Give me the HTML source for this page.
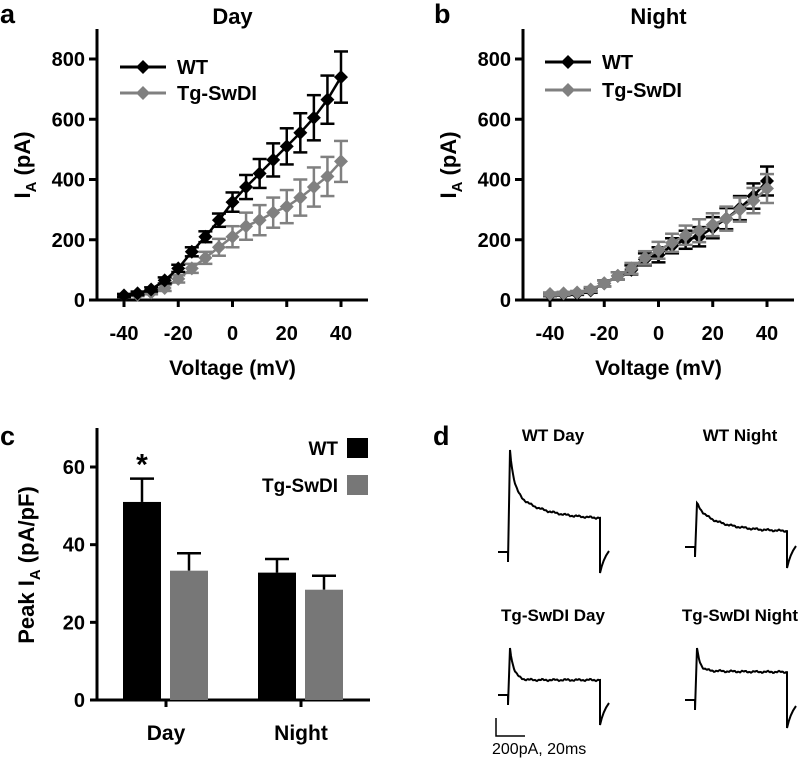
<!DOCTYPE html>
<html><head><meta charset="utf-8"><style>
body{margin:0;background:#fff}
svg{display:block;font-family:"Liberation Sans",Arial,sans-serif}
.t{font-weight:bold}
</style></head><body>
<svg id="fig" width="800" height="758" viewBox="0 0 800 758" xmlns="http://www.w3.org/2000/svg">
<g id="pa"></g>
<g id="pb"></g>
<g id="pc"></g>
<g id="pd"></g>
</svg>
<script>
const voltages=[-40,-35,-30,-25,-20,-15,-10,-5,0,5,10,15,20,25,30,35,40];
const xTicks=[-40,-20,0,20,40];
const yTicksIV=[0,200,400,600,800];
const dayWT=[15,22,35,65,105,160,210,265,325,375,420,465,510,555,605,665,740];
const dayWTErr=[5,6,7,10,12,15,18,22,32,40,48,55,60,65,75,80,85];
const dayTg=[15,18,25,40,70,105,140,175,210,245,265,290,310,340,375,410,460];
const dayTgErr=[5,5,6,10,12,15,20,28,35,45,50,50,55,60,65,65,68];
const nightWT=[18,20,22,32,55,80,100,135,150,180,200,210,240,270,305,345,395];
const nightWTErr=[5,5,5,8,10,12,15,20,25,25,30,32,35,35,40,42,48];
const nightTg=[20,22,25,35,55,80,105,140,165,190,215,230,250,270,300,330,370];
const nightTgErr=[5,5,5,8,10,12,18,22,28,30,32,38,38,40,40,42,48];
const barGroups=["Day","Night"];
const barWT=[51,32.8];
const barWTErr=[6,3.5];
const barTg=[33.3,28.4];
const barTgErr=[4.5,3.6];
const yTicksBar=[0,20,40,60];

const NS="http://www.w3.org/2000/svg";
function el(p,tag,attrs,txt){const e=document.createElementNS(NS,tag);for(const k in attrs)e.setAttribute(k,attrs[k]);if(txt!==undefined)e.textContent=txt;p.appendChild(e);return e;}
const BLACK="#000",GRAY="#808080";

function ivPanel(g,o){
  const sx=v=>o.x0+(v+40)*(o.x40-o.x0)/80;
  const sy=v=>300-v*(241/800);
  let e=el(g,"line",{x1:o.ax,y1:29,x2:o.ax,y2:301,stroke:"#000","stroke-width":3});
  
  e=el(g,"line",{x1:o.ax-8,y1:300,x2:o.ax+271,y2:300,stroke:"#000","stroke-width":3});
  
  yTicksIV.forEach(t=>{
    el(g,"line",{x1:o.ax-8,y1:sy(t),x2:o.ax,y2:sy(t),stroke:"#000","stroke-width":3});
    e=el(g,"text",{x:o.ax-12,y:sy(t)+7,"text-anchor":"end","font-size":20,class:"t"},t);
    
  });
  xTicks.forEach(t=>{
    el(g,"line",{x1:sx(t),y1:300,x2:sx(t),y2:307,stroke:"#000","stroke-width":3});
    e=el(g,"text",{x:sx(t),y:340,"text-anchor":"middle","font-size":20,class:"t"},t);
    
  });
  e=el(g,"text",{x:sx(0),y:375,"text-anchor":"middle","font-size":21,class:"t"},"Voltage (mV)");
  
  e=el(g,"text",{transform:`translate(${o.ytx},165) rotate(-90)`,"text-anchor":"middle","font-size":22,class:"t"});
  
  el(e,"tspan",{},"I");el(e,"tspan",{dy:6,"font-size":15},"A");el(e,"tspan",{dy:-6}," (pA)");
  e=el(g,"text",{x:sx(0),y:24,"text-anchor":"middle","font-size":22,class:"t"},o.title);
  
  e=el(g,"text",{x:o.lx,y:23,"font-size":27,class:"t"},o.letter);
  
  function series(vals,errs,col,name){
    const sg=el(g,"g",{});
    
    vals.forEach((v,i)=>{const x=sx(voltages[i]);
      el(sg,"line",{x1:x,y1:sy(v-errs[i]),x2:x,y2:sy(v+errs[i]),stroke:col,"stroke-width":2.5});
      el(sg,"line",{x1:x-7,y1:sy(v+errs[i]),x2:x+7,y2:sy(v+errs[i]),stroke:col,"stroke-width":2.5});
      el(sg,"line",{x1:x-7,y1:sy(v-errs[i]),x2:x+7,y2:sy(v-errs[i]),stroke:col,"stroke-width":2.5});
    });
    el(sg,"polyline",{points:vals.map((v,i)=>sx(voltages[i])+","+sy(v)).join(" "),fill:"none",stroke:col,"stroke-width":2.5});
    vals.forEach((v,i)=>{const x=sx(voltages[i]),y=sy(v);
      const m=el(sg,"path",{d:`M${x},${y-7}L${x+7},${y}L${x},${y+7}L${x-7},${y}Z`,fill:col});
      
    });
  }
  o.order.forEach(s=>series(s[0],s[1],s[2],s[3]));
  [[o.ly1,BLACK,"WT"],[o.ly2,GRAY,"Tg-SwDI"]].forEach(([y,c,n])=>{
    const lg=el(g,"g",{});
    
    el(lg,"line",{x1:o.lx1,y1:y,x2:o.lx1+46,y2:y,stroke:c,"stroke-width":3});
    const m=o.lx1+23;
    el(lg,"path",{d:`M${m},${y-7}L${m+7},${y}L${m},${y+7}L${m-7},${y}Z`,fill:c});
    el(lg,"text",{x:o.lx1+57,y:y+7,"font-size":20,class:"t"},n);
  });
}
ivPanel(document.getElementById("pa"),{ax:97,x0:124,x40:341,ytx:30,title:"Day",letter:"a",lx:0,lx1:120,ly1:67,ly2:93,
  order:[[dayTg,dayTgErr,GRAY,"series-tg-swdi"],[dayWT,dayWTErr,BLACK,"series-wt"]]});
ivPanel(document.getElementById("pb"),{ax:523,x0:550,x40:767,ytx:456,title:"Night",letter:"b",lx:434,lx1:545,ly1:62,ly2:90,
  order:[[nightWT,nightWTErr,BLACK,"series-wt"],[nightTg,nightTgErr,GRAY,"series-tg-swdi"]]});

// Panel c
(function(){
  const g=document.getElementById("pc");
  const sy=v=>700-v*(233/60);
  const gx=[166,301];
  let e=el(g,"line",{x1:97,y1:428,x2:97,y2:701,stroke:"#000","stroke-width":3});
  
  e=el(g,"line",{x1:90,y1:700,x2:370,y2:700,stroke:"#000","stroke-width":3});
  
  yTicksBar.forEach(t=>{
    el(g,"line",{x1:90,y1:sy(t),x2:97,y2:sy(t),stroke:"#000","stroke-width":3});
    e=el(g,"text",{x:85,y:sy(t)+7,"text-anchor":"end","font-size":20,class:"t"},t);
    
  });
  barGroups.forEach((n,i)=>{
    el(g,"line",{x1:gx[i],y1:700,x2:gx[i],y2:707,stroke:"#000","stroke-width":3});
    e=el(g,"text",{x:gx[i],y:740,"text-anchor":"middle","font-size":21,class:"t"},n);
    
    [[barWT,barWTErr,"#000",-43,"bar-wt-"],[barTg,barTgErr,"#777",4,"bar-tg-"]].forEach(([v,er,c,off,nm])=>{
      const x=gx[i]+off,w=38;
      el(g,"line",{x1:x+w/2,y1:sy(v[i]),x2:x+w/2,y2:sy(v[i]+er[i]),stroke:"#000","stroke-width":2.5});
      el(g,"line",{x1:x+w/2-12,y1:sy(v[i]+er[i]),x2:x+w/2+12,y2:sy(v[i]+er[i]),stroke:"#000","stroke-width":2.5});
      const r=el(g,"rect",{x:x,y:sy(v[i]),width:w,height:700-sy(v[i]),fill:c});
      
    });
  });
  e=el(g,"text",{x:gx[0]-24,y:sy(barWT[0]+barWTErr[0])-4,"text-anchor":"middle","font-size":30,class:"t"},"*");
  
  e=el(g,"text",{transform:"translate(34,565) rotate(-90)","text-anchor":"middle","font-size":22,class:"t"});
  
  el(e,"tspan",{},"Peak I");el(e,"tspan",{dy:6,"font-size":15},"A");el(e,"tspan",{dy:-6}," (pA/pF)");
  e=el(g,"text",{x:0,y:445,"font-size":27,class:"t"},"c");
  
  [[448,"#000","WT"],[485,"#777","Tg-SwDI"]].forEach(([y,c,n])=>{
    const lg=el(g,"g",{});
    
    el(lg,"rect",{x:347,y:y-10,width:21,height:20,fill:c});
    el(lg,"text",{x:338,y:y+7,"text-anchor":"end","font-size":19,class:"t"},n);
  });
})();

// Panel d traces
(function(){
  const g=document.getElementById("pd");
  let e=el(g,"text",{x:433,y:445,"font-size":27,class:"t"},"d");
  
  const traces=[
    {name:"WT Day",lx:553,ly:441,x:498,base:552,peak:450,fast:490,end:518,tau:4,drop:573},
    {name:"WT Night",lx:740,ly:441,x:685,base:547,peak:503,fast:512,end:531,tau:6,drop:568},
    {name:"Tg-SwDI Day",lx:553,ly:621,x:498,base:695,peak:648,fast:680,end:680,tau:4,drop:725},
    {name:"Tg-SwDI Night",lx:740,ly:621,x:685,base:700,peak:648,fast:670,end:672,tau:3,drop:728}
  ];
  traces.forEach(t=>{
    const tg=el(g,"g",{});
    
    
    el(tg,"text",{x:t.lx,y:t.ly,"text-anchor":"middle","font-size":17,class:"t"},t.name);
    const s=t.x+10,en=t.x+102;
    let d=`M${t.x},${t.base}L${s},${t.base}L${s},${t.base+10}L${s+2},${t.peak}`;
    for(let x=s+3;x<=en;x+=1){
      const k=x-s-2;
      const fastPart=(t.fast-t.peak)*(1-Math.exp(-k/t.tau));
      const slowPart=(t.end-t.fast)*(1-Math.exp(-k/30))/(1-Math.exp(-(en-s)/30));
      const n=Math.sin(x*1.7)*0.5+Math.sin(x*0.53)*0.6;
      d+=`L${x},${(t.peak+fastPart+slowPart+n).toFixed(1)}`;
    }
    d+=`L${en},${t.drop}Q${en+3},${t.drop-14} ${en+9},${t.drop-22}`;
    el(tg,"path",{d:d,fill:"none",stroke:"#000","stroke-width":2});
  });
  const sb=el(g,"g",{});
  
  el(sb,"path",{d:"M496,718L496,736L525,736",fill:"none",stroke:"#000","stroke-width":1.5});
  el(sb,"text",{x:492,y:754,"font-size":16},"200pA, 20ms");
})();
</script>
</body></html>
